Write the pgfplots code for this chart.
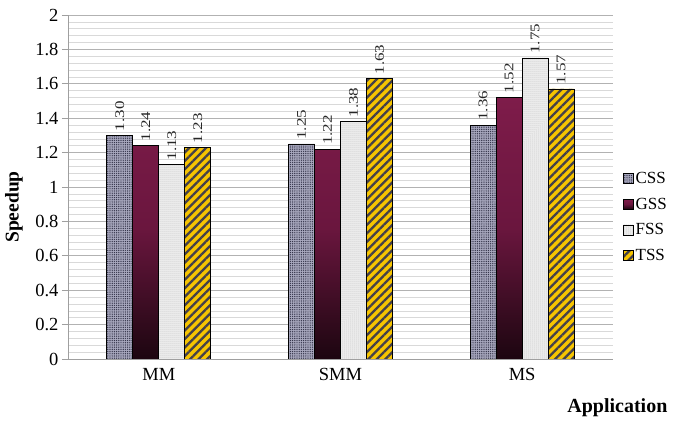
\documentclass[border=0pt]{standalone}
\usepackage{pgfplots}
\pgfplotsset{compat=1.18}
\usepackage{pgfplotstable}
\usepackage{fontspec}
\setmainfont{Liberation Serif}
\usetikzlibrary{patterns.meta}

\definecolor{cssfill}{HTML}{A8A8BE}
\definecolor{cssdot}{HTML}{34344A}
\definecolor{gsstop}{HTML}{7E1C4A}
\definecolor{gssmid}{HTML}{6A163E}
\definecolor{gssbot}{HTML}{1C0610}
\definecolor{fssfill}{HTML}{F2F2F2}
\definecolor{fssdot}{HTML}{A8A8A8}
\definecolor{tssfill}{HTML}{F6C400}
\definecolor{tssline}{HTML}{44404A}

% speedup per application (0 = MM, 1 = SMM, 2 = MS)
\pgfplotstableread{
app css  gss  fss  tss
0   1.30 1.24 1.13 1.23
1   1.25 1.22 1.38 1.63
2   1.36 1.52 1.75 1.57
}\speeddata

\begin{document}
\begin{tikzpicture}
\path (-68pt,-63pt) rectangle (609pt,359pt);
\begin{axis}[
  at={(0,0)}, anchor=south west,
  scale only axis, width=545pt, height=344pt,
  ybar=0pt, bar width=26pt,
  xmin=-0.5, xmax=2.5, ymin=0, ymax=2,
  xtick={0,1,2}, xticklabels={MM,SMM,MS},
  ytick={0,0.2,0.4,0.6,0.8,1,1.2,1.4,1.6,1.8,2},
  minor y tick num=4,
  /pgf/number format/assume math mode=true,
  tick label style={font=\fontsize{18.5}{18.5}\selectfont},
  axis x line*=bottom, axis y line*=left,
  axis line style={-, draw=gray!75, line width=0.8pt},
  ymajorgrids, yminorgrids,
  major grid style={draw=gray!60, line width=0.8pt},
  minor grid style={draw=gray!30, line width=0.6pt},
  tick align=outside, major tick length=6pt, minor tick length=0pt,
  ytick style={draw=gray!75, line width=0.8pt},
  xtick style={draw=none},
  nodes near coords={\scalebox{1}[0.78]{\pgfmathprintnumber[fixed,zerofill,precision=2]{\pgfplotspointmeta}}},
  nodes near coords style={rotate=90, anchor=west, inner sep=4pt, font=\fontsize{17}{17}\selectfont, text=black!85},
  xlabel={Application}, ylabel={Speedup},
  xlabel style={font=\bfseries\fontsize{20}{20}\selectfont, at={(axis description cs:1.008,-0.142)}, anchor=center},
  ylabel style={font=\bfseries\fontsize{19.5}{19.5}\selectfont, at={(axis description cs:-0.099,0.442)}, anchor=center},
  legend style={at={(axis description cs:1.018,0.55)}, anchor=north west, draw=none, fill=none,
    font=\fontsize{17}{17}\selectfont, row sep=9pt, inner sep=0pt,
    nodes={inner xsep=2pt}},
  legend cell align=left,
  legend image code/.code={\draw[#1, line width=0.6pt] (0pt,-5pt) rectangle (10pt,5pt);},
]
\addplot[draw=black, line width=0.7pt, fill=cssfill,
  postaction={pattern={Dots[distance=2.2pt,radius=0.7pt]}, pattern color=cssdot}]
  table[x=app, y=css]{\speeddata};
\addplot[draw=black, line width=0.7pt, shade, top color=gsstop, bottom color=gssbot, middle color=gssmid]
  table[x=app, y=gss]{\speeddata};
\addplot[draw=black, line width=0.7pt, fill=fssfill,
  postaction={pattern={Dots[distance=2pt,radius=0.5pt]}, pattern color=fssdot}]
  table[x=app, y=fss]{\speeddata};
\addplot[draw=black, line width=0.7pt, fill=tssfill,
  postaction={pattern={Lines[angle=45,distance=6pt,line width=2.3pt]}, pattern color=tssline}]
  table[x=app, y=tss]{\speeddata};
\legend{CSS,GSS,FSS,TSS}
\end{axis}
\end{tikzpicture}
\end{document}
